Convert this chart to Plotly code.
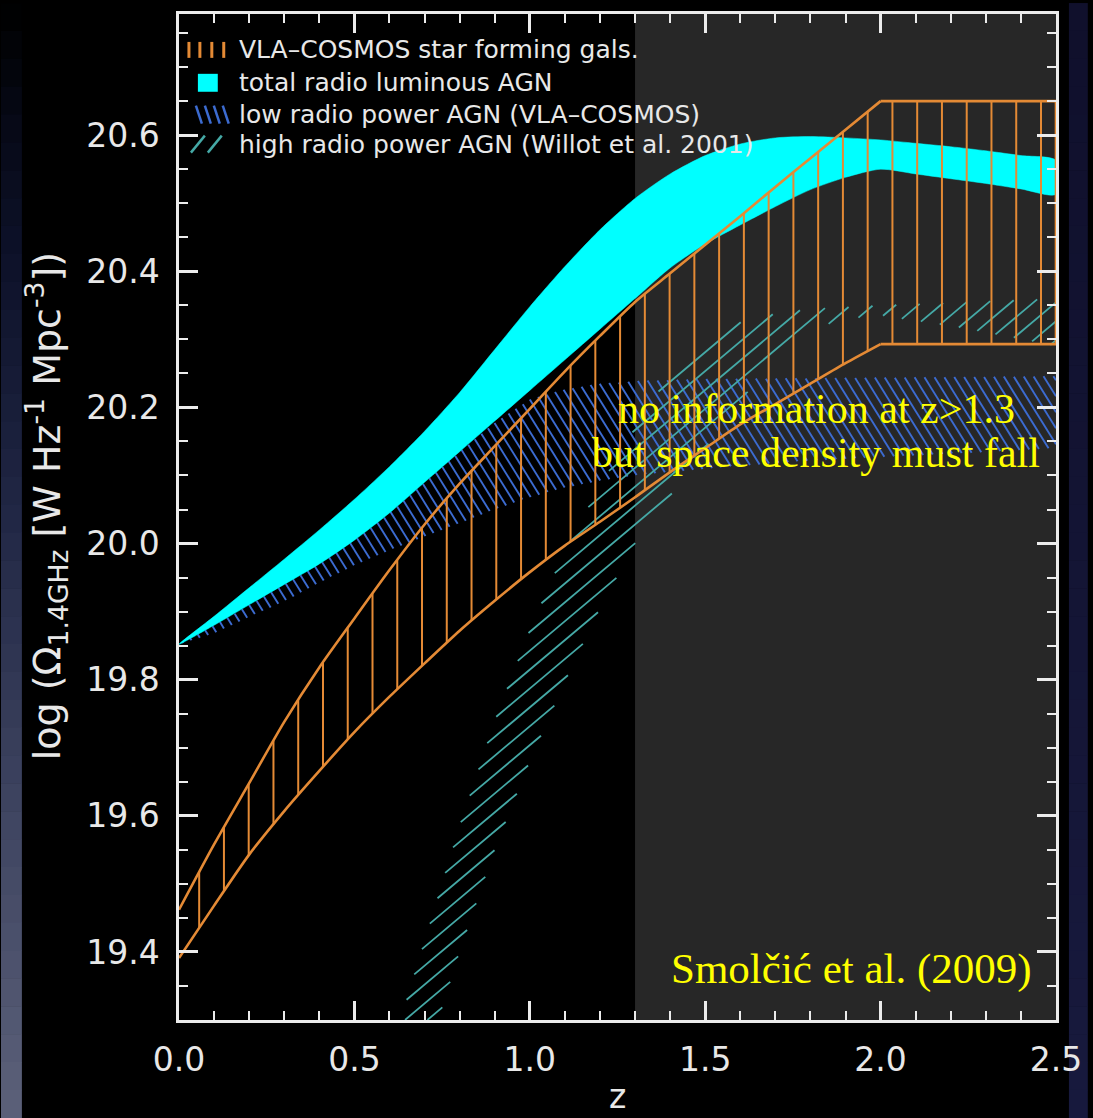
import numpy as np
import plotly.graph_objects as go

# ------------------------------------------------------------------
# Data (log Omega_1.4GHz vs redshift z)
# ------------------------------------------------------------------
# VLA-COSMOS star forming galaxies (orange, vertical hatch)
Z_SF = [0.0, 0.1, 0.2, 0.3, 0.4, 0.5, 0.6, 0.7, 0.8, 0.9, 1.0, 1.1, 1.2, 1.3,
        1.4, 1.5, 1.6, 1.7, 1.8, 1.9, 2.0, 2.5]
SF_UPPER = [19.462, 19.558, 19.648, 19.738, 19.818, 19.890, 19.961, 20.028,
            20.088, 20.143, 20.198, 20.253, 20.305, 20.355, 20.397, 20.439,
            20.481, 20.524, 20.566, 20.608, 20.650, 20.650]
SF_LOWER = [19.391, 19.468, 19.543, 19.607, 19.666, 19.723, 19.775, 19.824,
            19.872, 19.916, 19.958, 19.997, 20.032, 20.068, 20.105, 20.140,
            20.175, 20.205, 20.235, 20.265, 20.293, 20.293]

# total radio luminous AGN (cyan band)
Z_TOT = [0.0, 0.1, 0.2, 0.3, 0.4, 0.5, 0.6, 0.7, 0.8, 0.9, 1.0, 1.1, 1.2, 1.3,
         1.4, 1.5, 1.6, 1.7, 1.8, 1.9, 2.0, 2.1, 2.2, 2.3, 2.4, 2.5]
TOT_UPPER = [19.852, 19.893, 19.935, 19.977, 20.020, 20.065, 20.113, 20.165,
             20.222, 20.285, 20.348, 20.407, 20.461, 20.507, 20.543, 20.570,
             20.587, 20.596, 20.598, 20.596, 20.593, 20.588, 20.583, 20.577,
             20.570, 20.563]
TOT_LOWER = [19.852, 19.880, 19.910, 19.940, 19.970, 20.005, 20.045, 20.090,
             20.135, 20.180, 20.225, 20.270, 20.315, 20.360, 20.405, 20.440,
             20.468, 20.495, 20.520, 20.538, 20.550, 20.543, 20.536, 20.529,
             20.521, 20.513]

# low radio power AGN, VLA-COSMOS (blue, "\" hatch)
Z_LOW = [0.0, 0.1, 0.2, 0.3, 0.4, 0.5, 0.6, 0.7, 0.8, 0.9, 1.0, 1.1, 1.2, 1.3,
         1.5, 1.75, 2.0, 2.25, 2.5]
LOW_UPPER = [19.852, 19.880, 19.910, 19.940, 19.970, 20.005, 20.045, 20.090,
             20.135, 20.178, 20.212, 20.227, 20.235, 20.239, 20.242, 20.243,
             20.244, 20.245, 20.246]
LOW_LOWER = [19.852, 19.868, 19.892, 19.915, 19.942, 19.968, 19.990, 20.010,
             20.030, 20.050, 20.068, 20.082, 20.092, 20.100, 20.110, 20.120,
             20.127, 20.133, 20.140]

# high radio power AGN, Willott et al. 2001 (teal, "/" hatch)
Z_HIGH_UP = [0.63, 0.65, 0.7, 0.8, 0.9, 1.0, 1.1, 1.2, 1.3, 1.4, 1.5, 1.6,
             1.7, 1.8, 2.0, 2.25, 2.5]
HIGH_UPPER = [19.300, 19.332, 19.417, 19.586, 19.740, 19.874, 19.990, 20.085,
              20.170, 20.250, 20.300, 20.325, 20.338, 20.345, 20.350, 20.355,
              20.360]
Z_HIGH_LO = [0.74, 0.8, 0.9, 1.0, 1.1, 1.2, 1.3, 1.4, 1.5, 1.6, 1.7, 1.8,
             1.9, 2.0, 2.25, 2.5]
HIGH_LOWER = [19.300, 19.400, 19.550, 19.680, 19.797, 19.905, 20.000, 20.070,
              20.140, 20.210, 20.270, 20.315, 20.330, 20.335, 20.315, 20.290]

NO_INFO_Z = 1.3

X_TICKS = [0.0, 0.5, 1.0, 1.5, 2.0, 2.5]
Y_TICKS = [19.4, 19.6, 19.8, 20.0, 20.2, 20.4, 20.6]

LEGEND_LABELS = ["VLA\u2013COSMOS star forming gals.",
                 "total radio luminous AGN",
                 "low radio power AGN (VLA\u2013COSMOS)",
                 "high radio power AGN (Willot et al. 2001)"]

# ------------------------------------------------------------------
# Layout / style
# ------------------------------------------------------------------
W, H = 1093, 1118
ML, MR, MT, MB = 179, 32, 11, 98
X_RANGE = [0.0, 2.5]
Y_RANGE = [19.3, 20.778]
PLOT_W = W - ML - MR
PLOT_H = H - MT - MB
PX_PER_Z = PLOT_W / (X_RANGE[1] - X_RANGE[0])
PX_PER_Y = PLOT_H / (Y_RANGE[1] - Y_RANGE[0])

ORANGE = "#e48a35"
CYAN = "#00ffff"
BLUE = "#3c6bd0"
TEAL = "#45a9a6"
FRAME = "#ececec"
LABEL = "#e8e8e8"
YELLOW = "#ffff00"
GREY = "#272727"
SANS = "DejaVu Sans"
SERIF = "Liberation Serif"
SMOOTH = 0.7


def px_x(px):
    return (px - ML) / PLOT_W


def px_y(py):
    return (H - MB - py) / PLOT_H


def diag_hatch(z_up, y_up, z_lo, y_lo, angle_deg, spacing_px):
    """Straight hatch lines (given screen angle/spacing) clipped to the band."""
    zf = np.linspace(X_RANGE[0], X_RANGE[1], 4001)
    up = np.interp(zf, z_up, y_up, left=np.nan, right=np.nan)
    lo = np.interp(zf, z_lo, y_lo, left=Y_RANGE[0], right=np.nan)
    valid = ~np.isnan(up) & ~np.isnan(lo)
    th = np.radians(angle_deg)
    s = np.tan(th) * PX_PER_Z / PX_PER_Y
    dc = spacing_px / (np.cos(th) * PX_PER_Y)
    cmin = np.nanmin((lo - s * zf)[valid])
    cmax = np.nanmax((up - s * zf)[valid])
    xs, ys = [], []
    for c in np.arange(cmin + dc * 0.5, cmax, dc):
        y = c + s * zf
        inside = valid & (y >= lo) & (y <= up)
        d = np.diff(np.concatenate([[0], inside.astype(int), [0]]))
        starts = np.where(d == 1)[0]
        ends = np.where(d == -1)[0] - 1
        for a, b in zip(starts, ends):
            if b > a:
                xs += [zf[a], zf[b], None]
                ys += [y[a], y[b], None]
    return xs, ys


fig = go.Figure()

# low radio power AGN (blue hatch)
bx, by = diag_hatch(Z_LOW, LOW_UPPER, Z_LOW, LOW_LOWER, -58, 8.5)
fig.add_trace(go.Scatter(x=bx, y=by, mode="lines",
                         line=dict(color=BLUE, width=1.9), hoverinfo="skip",
                         showlegend=False))

# high radio power AGN (teal hatch)
tx, ty = diag_hatch(Z_HIGH_UP, HIGH_UPPER, Z_HIGH_LO, HIGH_LOWER, 40, 14.5)
fig.add_trace(go.Scatter(x=tx, y=ty, mode="lines",
                         line=dict(color=TEAL, width=1.8), hoverinfo="skip",
                         showlegend=False))

# total radio luminous AGN (cyan band)
fig.add_trace(go.Scatter(x=Z_TOT + Z_TOT[::-1], y=TOT_UPPER + TOT_LOWER[::-1],
                         mode="lines", fill="toself", fillcolor=CYAN,
                         line=dict(color=CYAN, width=0.5, shape="spline",
                                   smoothing=SMOOTH),
                         hoverinfo="skip", showlegend=False))

# star forming galaxies: vertical hatch + outline
HATCH_Z0 = 20.3 / PX_PER_Z
HATCH_DZ = 24.9 / PX_PER_Z
vz = np.arange(HATCH_Z0, X_RANGE[1], HATCH_DZ)
vlo = np.interp(vz, Z_SF, SF_LOWER)
vhi = np.interp(vz, Z_SF, SF_UPPER)
vx, vy = [], []
for zz, a, b in zip(vz, vlo, vhi):
    vx += [zz, zz, None]
    vy += [a, b, None]
fig.add_trace(go.Scatter(x=vx, y=vy, mode="lines",
                         line=dict(color=ORANGE, width=2), hoverinfo="skip",
                         showlegend=False))
k2 = Z_SF.index(2.0)
for ys_edge in (SF_UPPER, SF_LOWER):
    # curved part up to the turnover, then the flat tail
    fig.add_trace(go.Scatter(x=Z_SF[:k2 + 1], y=ys_edge[:k2 + 1], mode="lines",
                             line=dict(color=ORANGE, width=2.6, shape="spline",
                                       smoothing=SMOOTH),
                             hoverinfo="skip", showlegend=False))
    fig.add_trace(go.Scatter(x=Z_SF[k2:], y=ys_edge[k2:], mode="lines",
                             line=dict(color=ORANGE, width=2.6),
                             hoverinfo="skip", showlegend=False))
fig.add_trace(go.Scatter(x=[Z_SF[-1], Z_SF[-1]], y=[SF_LOWER[-1], SF_UPPER[-1]],
                         mode="lines", line=dict(color=ORANGE, width=2.6),
                         hoverinfo="skip", showlegend=False))

shapes = []
# grey "no information" region
shapes.append(dict(type="rect", xref="x", yref="paper", x0=NO_INFO_Z,
                   x1=X_RANGE[1], y0=0, y1=1, fillcolor=GREY,
                   line=dict(width=0), layer="below"))

# slide-background strips (left grey-blue gradient, right navy)
N = 40
stops_py = [0, 140, 260, 500, 800, 1118]
stops_r = [0, 8, 14, 32, 62, 92]
stops_g = [0, 11, 18, 38, 68, 97]
stops_b = [0, 26, 42, 68, 96, 122]
for i in range(N):
    p0 = H * i / N
    p1 = H * (i + 1) / N
    pm = 0.5 * (p0 + p1)
    r = int(np.interp(pm, stops_py, stops_r))
    g = int(np.interp(pm, stops_py, stops_g))
    b = int(np.interp(pm, stops_py, stops_b))
    shapes.append(dict(type="rect", xref="paper", yref="paper",
                       x0=px_x(0), x1=px_x(21), y0=px_y(p1 + 0.5), y1=px_y(p0),
                       fillcolor=f"rgb({r},{g},{b})", line=dict(width=0),
                       layer="below"))
    r2 = int(np.interp(pm, [0, 1118], [16, 24]))
    g2 = int(np.interp(pm, [0, 1118], [16, 26]))
    b2 = int(np.interp(pm, [0, 1118], [44, 62]))
    shapes.append(dict(type="rect", xref="paper", yref="paper",
                       x0=px_x(1074), x1=px_x(1093), y0=px_y(p1 + 0.5),
                       y1=px_y(p0), fillcolor=f"rgb({r2},{g2},{b2})",
                       line=dict(width=0), layer="below"))

# legend symbols
LEG_Y = [47, 80, 112, 142]
for xb in [189, 200, 212, 224]:
    shapes.append(dict(type="line", xref="paper", yref="paper",
                       x0=px_x(xb), x1=px_x(xb), y0=px_y(LEG_Y[0] + 8),
                       y1=px_y(LEG_Y[0] - 8), line=dict(color=ORANGE, width=3)))
shapes.append(dict(type="rect", xref="paper", yref="paper",
                   x0=px_x(198), x1=px_x(218), y0=px_y(LEG_Y[1] + 9),
                   y1=px_y(LEG_Y[1] - 9), fillcolor=CYAN, line=dict(width=0)))
for xb in [196, 205, 214, 223]:
    shapes.append(dict(type="line", xref="paper", yref="paper",
                       x0=px_x(xb), x1=px_x(xb + 6), y0=px_y(LEG_Y[2] - 9),
                       y1=px_y(LEG_Y[2] + 9), line=dict(color=BLUE, width=2.5)))
for xb in [191, 208]:
    shapes.append(dict(type="line", xref="paper", yref="paper",
                       x0=px_x(xb), x1=px_x(xb + 14), y0=px_y(LEG_Y[3] + 8),
                       y1=px_y(LEG_Y[3] - 9), line=dict(color=TEAL, width=2.5)))

annotations = []
for lab, yy in zip(LEGEND_LABELS, LEG_Y):
    annotations.append(dict(text=lab, xref="paper", yref="paper",
                            x=px_x(237), y=px_y(yy), xanchor="left",
                            yanchor="middle", showarrow=False,
                            font=dict(family=SANS, size=25, color=LABEL)))

annotations += [
    dict(text="no information at z>1.3", xref="paper", yref="paper",
         x=px_x(820), y=px_y(407), xanchor="center", yanchor="middle",
         showarrow=False, font=dict(family=SERIF, size=42, color=YELLOW)),
    dict(text="but space density must fall", xref="paper", yref="paper",
         x=px_x(820), y=px_y(451), xanchor="center", yanchor="middle",
         showarrow=False, font=dict(family=SERIF, size=42, color=YELLOW)),
    dict(text="Smol\u010di\u0107 et al. (2009)", xref="paper", yref="paper",
         x=px_x(1039), y=px_y(969), xanchor="right", yanchor="middle",
         showarrow=False, font=dict(family=SERIF, size=43, color=YELLOW)),
    dict(text="log (\u03a9<sub>1.4GHz</sub> [W Hz<sup>-1</sup> Mpc<sup>-3</sup>])",
         xref="paper", yref="paper", x=px_x(46), y=px_y(505), textangle=-90,
         xanchor="center", yanchor="middle", showarrow=False,
         font=dict(family=SANS, size=38, color=LABEL)),
    dict(text="z", xref="paper", yref="paper", x=px_x(620), y=px_y(1097),
         xanchor="center", yanchor="middle", showarrow=False,
         font=dict(family=SANS, size=33, color=LABEL)),
]

axis_common = dict(showline=True, linecolor=FRAME, linewidth=2.5,
                   mirror="ticks", ticks="inside", ticklen=19, tickwidth=2.5,
                   tickcolor=FRAME, showgrid=False, zeroline=False,
                   layer="above traces", fixedrange=True,
                   tickfont=dict(family=SANS, size=33, color=LABEL))

fig.update_layout(
    width=W, height=H, autosize=False,
    margin=dict(l=ML, r=MR, t=MT, b=MB),
    paper_bgcolor="black", plot_bgcolor="black",
    showlegend=False,
    xaxis=dict(range=X_RANGE, tickvals=X_TICKS,
               ticktext=[f"{v:.1f}" for v in X_TICKS],
               minor=dict(ticks="inside", ticklen=9, tickwidth=2,
                          tickcolor=FRAME, dtick=0.1, tick0=0),
               ticklabelstandoff=9, **axis_common),
    yaxis=dict(range=Y_RANGE, tickvals=Y_TICKS,
               ticktext=[f"{v:.1f}" for v in Y_TICKS],
               minor=dict(ticks="inside", ticklen=9, tickwidth=2,
                          tickcolor=FRAME, dtick=0.05, tick0=0),
               ticklabelstandoff=10, **axis_common),
    shapes=shapes,
    annotations=annotations,
)

fig.write_html("out.html")
